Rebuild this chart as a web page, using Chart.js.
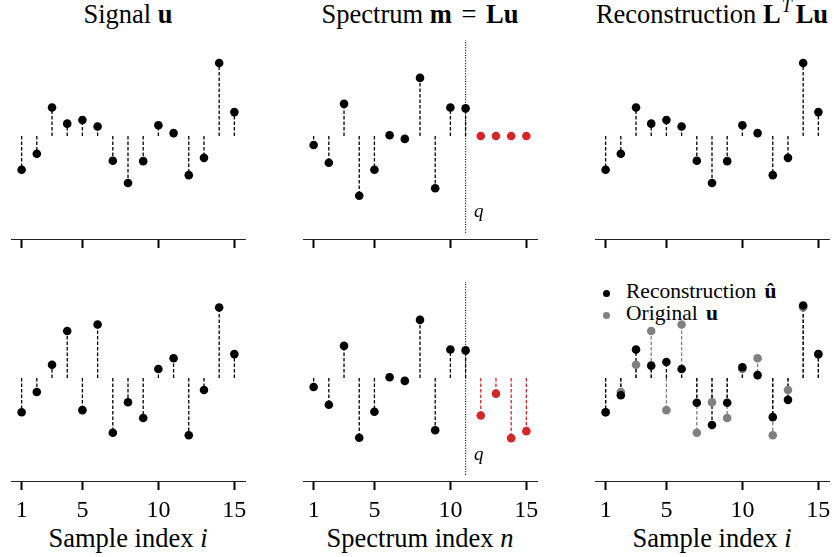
<!DOCTYPE html>
<html>
<head>
<meta charset="utf-8">
<script src="https://cdn.jsdelivr.net/npm/chart.js@4/dist/chart.umd.min.js"></script>
<style>
  html, body { margin: 0; padding: 0; background: #fff; }
  #wrap { position: relative; width: 834px; height: 557px; overflow: hidden;
          font-family: "Liberation Serif", "DejaVu Serif", serif; color: #000; }
  #wrap canvas { position: absolute; }
  .ttl, .xl { position: absolute; width: 234px; text-align: center; font-size: 26.5px;
              line-height: 1; white-space: nowrap; }
  .sup { font-size: 18px; font-style: italic; position: relative; top: -11px; margin: 0 4px 0 1px; }
  .eq { margin: 0 3px; }
  .leg { position: absolute; font-size: 21.5px; line-height: 1; white-space: nowrap; }
  .leg b { margin-left: 3px; }
  .dot { position: absolute; width: 7px; height: 7px; border-radius: 50%; }
</style>
</head>
<body>
<div id="wrap">
  <div class="ttl" style="left:11px;top:0.5px">Signal <b>u</b></div>
  <div class="ttl" style="left:303px;top:0.5px">Spectrum <b>m</b><span class="eq"> = </span><b>Lu</b></div>
  <div class="ttl" style="left:595px;top:0.5px">Reconstruction <b>L</b><span class="sup">T</span><b>Lu</b></div>

  <div class="xl" style="left:11px;top:525px">Sample index <i>i</i></div>
  <div class="xl" style="left:303px;top:525px">Spectrum index <i>n</i></div>
  <div class="xl" style="left:595px;top:525px">Sample index <i>i</i></div>

  <div class="dot" style="left:602.5px;top:290px;background:#000"></div>
  <div class="leg" style="left:626px;top:281px">Reconstruction <b>û</b></div>
  <div class="dot" style="left:602.5px;top:311.5px;background:#808080"></div>
  <div class="leg" style="left:626px;top:303px">Original <b>u</b></div>
</div>
<script>
// ====== data ======
const sampleIdx   = [1, 2, 3, 4, 5, 6, 7, 8, 9, 10, 11, 12, 13, 14, 15];
const keptIdx     = [1, 2, 3, 4, 5, 6, 7, 8, 9, 10, 11];
const droppedIdx  = [12, 13, 14, 15];
const xTicks      = [1, 5, 10, 15];

// top row: smooth signal, its spectrum has nothing past q
const signalTop      = [-0.82, -0.43, 0.69, 0.30, 0.39, 0.23, -0.60, -1.14, -0.61, 0.26, 0.07, -0.95, -0.53, 1.77, 0.58];
const spectrumKept   = [-0.22, -0.65, 0.78, -1.45, -0.82, 0.02, -0.07, 1.41, -1.27, 0.69, 0.67];
const tailTop        = [0, 0, 0, 0];
const reconTop       = [-0.82, -0.43, 0.69, 0.30, 0.39, 0.23, -0.60, -1.14, -0.61, 0.26, 0.07, -0.95, -0.53, 1.77, 0.58];

// bottom row: signal with energy beyond q
const signalBottom   = [-0.83, -0.34, 0.32, 1.14, -0.78, 1.30, -1.33, -0.59, -0.97, 0.22, 0.48, -1.39, -0.29, 1.71, 0.58];
const tailBottom     = [-0.91, -0.38, -1.46, -1.29];
const reconBottom    = [-0.83, -0.42, 0.69, 0.30, 0.39, 0.22, -0.60, -1.14, -0.60, 0.26, 0.07, -0.95, -0.53, 1.76, 0.58];

const cutoff = 11;

// ====== look ======
const BLACK = "#000000", RED = "#d62728", GRAY = "#808080";
const X_MIN = 0.3, X_MAX = 15.7, Y_LIM = 2.5;
const PANEL_LEFT = [11, 303, 595];
const ROW_TOP = [33, 274.7];
const AREA_W = 234, AREA_H = 206, PAD = 15;
const X_SCALE_H = [12, 50];
const DOT_R = 4.3;

// q label next to the cut line
const qLabelPlugin = {
  id: "qLabel",
  afterDatasetsDraw(chart, args, opts) {
    if (!opts || !opts.text) return;
    const { ctx, scales: { x, y } } = chart;
    ctx.save();
    ctx.font = 'italic 19px "Liberation Serif"';
    ctx.fillStyle = "#000";
    ctx.textBaseline = "middle";
    ctx.fillText(opts.text, x.getPixelForValue(opts.x), y.getPixelForValue(opts.y));
    ctx.restore();
  }
};

function stems(xs, ys, color, order) {
  return xs.map((x, k) => ({
    type: "line", showLine: true,
    data: [{ x, y: 0 }, { x, y: ys[k] }],
    borderColor: color, borderWidth: 1.3, borderDash: [3.5, 2],
    pointRadius: 0, order, clip: false,
  }));
}

function dots(xs, ys, color, order) {
  return {
    type: "scatter",
    data: xs.map((x, k) => ({ x, y: ys[k] })),
    backgroundColor: color, borderWidth: 0, pointRadius: DOT_R,
    order, clip: false,
  };
}

function cutLine() {
  return {
    type: "line", showLine: true,
    data: [{ x: cutoff, y: -2.35 }, { x: cutoff, y: 2.33 }],
    borderColor: "#000", borderWidth: 1.2, borderDash: [1, 1.6],
    pointRadius: 0, order: 5, clip: false,
  };
}

function addPanel(col, row, datasets, qOpts) {
  const wrap = document.getElementById("wrap");
  const cv = document.createElement("canvas");
  cv.width = AREA_W + 2 * PAD;
  cv.height = PAD + AREA_H + X_SCALE_H[row];
  cv.style.left = (PANEL_LEFT[col] - PAD) + "px";
  cv.style.top = (ROW_TOP[row] - PAD) + "px";
  wrap.appendChild(cv);

  new Chart(cv, {
    type: "scatter",
    data: { datasets },
    options: {
      responsive: false, animation: false, devicePixelRatio: 1,
      layout: { padding: { left: PAD, right: PAD, top: PAD, bottom: 0 } },
      plugins: { legend: { display: false }, tooltip: { enabled: false }, qLabel: qOpts || {} },
      scales: {
        x: {
          type: "linear", min: X_MIN, max: X_MAX,
          afterBuildTicks: (s) => { s.ticks = xTicks.map((v) => ({ value: v })); },
          afterFit: (s) => { s.height = X_SCALE_H[row]; },
          grid: { display: true, drawOnChartArea: false, drawTicks: true, tickLength: 9, tickWidth: 2, tickColor: "#000" },
          border: { display: true, color: "#222", width: 1 },
          ticks: {
            display: row === 1, autoSkip: false, maxRotation: 0, padding: 6, color: "#000",
            font: { family: "Liberation Serif", size: 24 },
            callback: (v) => String(v),
          },
        },
        y: { display: false, min: -Y_LIM, max: Y_LIM },
      },
    },
    plugins: [qLabelPlugin],
  });
}

document.addEventListener("DOMContentLoaded", () => {
  const q = (yy) => ({ text: "q", x: 11.55, y: yy });

  // top row
  addPanel(0, 0, [dots(sampleIdx, signalTop, BLACK, 0), ...stems(sampleIdx, signalTop, BLACK, 1)]);
  addPanel(1, 0, [
    dots(keptIdx, spectrumKept, BLACK, 0), dots(droppedIdx, tailTop, RED, 0),
    ...stems(keptIdx, spectrumKept, BLACK, 1), cutLine(),
  ], q(-1.84));
  addPanel(2, 0, [dots(sampleIdx, reconTop, BLACK, 0), ...stems(sampleIdx, reconTop, BLACK, 1)]);

  // bottom row
  addPanel(0, 1, [dots(sampleIdx, signalBottom, BLACK, 0), ...stems(sampleIdx, signalBottom, BLACK, 1)]);
  addPanel(1, 1, [
    dots(keptIdx, spectrumKept, BLACK, 0), dots(droppedIdx, tailBottom, RED, 0),
    ...stems(keptIdx, spectrumKept, BLACK, 1), ...stems(droppedIdx, tailBottom, RED, 1), cutLine(),
  ], q(-1.87));
  addPanel(2, 1, [
    dots(sampleIdx, reconBottom, BLACK, 0), dots(sampleIdx, signalBottom, GRAY, 1),
    ...stems(sampleIdx, reconBottom, BLACK, 2), ...stems(sampleIdx, signalBottom, GRAY, 3),
  ]);
});
</script>
</body>
</html>
